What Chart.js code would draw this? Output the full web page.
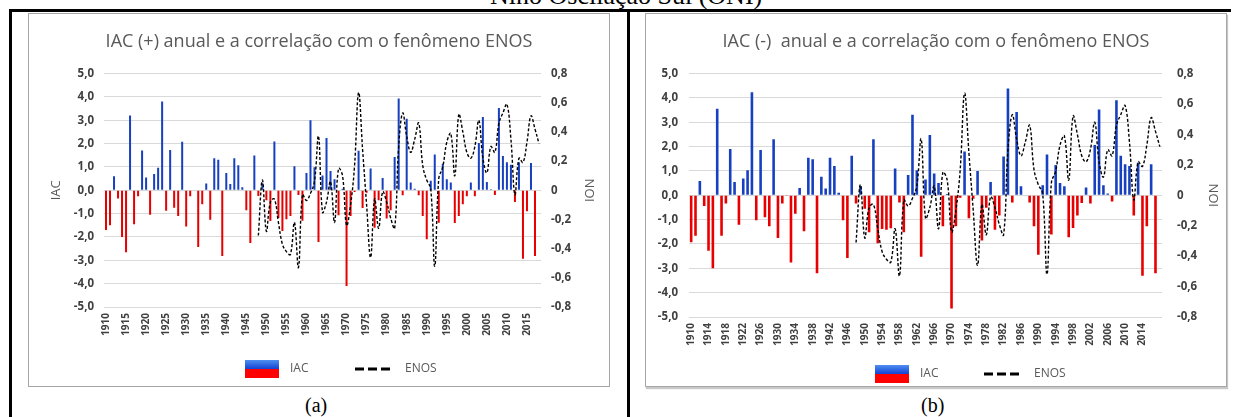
<!DOCTYPE html>
<html>
<head>
<meta charset="utf-8">
<script src="https://cdn.jsdelivr.net/npm/chart.js@4/dist/chart.umd.min.js"></script>
<style>
  body { margin: 0; background: #fff; }
  #page { position: relative; width: 1233px; height: 417px; overflow: hidden; background: #fff; }
  .rule { position: absolute; background: #000; }
  .box { position: absolute; top: 13px; width: 582px; height: 374px; box-sizing: border-box; border: 1px solid #a6a6a6; background: #fff; }
  .box canvas { position: absolute; left: -1px; top: -1px; }
  .cap { position: absolute; font-family: "Liberation Serif", serif; color: #000; white-space: nowrap; }
</style>
</head>
<body>
<div id="page">
  <div class="cap" style="left:490px; top:-17px; font-size:26px; line-height:26px;">Niño Oscilação Sul (ONI)</div>
  <div class="rule" style="left:9px; top:9px; width:1222px; height:3px;"></div>
  <div class="rule" style="left:9px; top:9px; width:3px; height:408px;"></div>
  <div class="rule" style="left:627px; top:9px; width:3px; height:408px;"></div>
  <div class="box" style="left:28px;"><canvas id="chartA" width="582" height="374"></canvas></div>
  <div class="box" style="left:645px; box-shadow: 1px 2px 1px #c8c8c8;"><canvas id="chartB" width="582" height="374"></canvas></div>
  <div class="cap" style="left:305px; top:394px; font-size:20px; line-height:22px;">(a)</div>
  <div class="cap" style="left:921px; top:394px; font-size:20px; line-height:22px;">(b)</div>
</div>
<script>
const years = [
  1910, 1911, 1912, 1913, 1914, 1915, 1916, 1917, 1918, 1919,
  1920, 1921, 1922, 1923, 1924, 1925, 1926, 1927, 1928, 1929,
  1930, 1931, 1932, 1933, 1934, 1935, 1936, 1937, 1938, 1939,
  1940, 1941, 1942, 1943, 1944, 1945, 1946, 1947, 1948, 1949,
  1950, 1951, 1952, 1953, 1954, 1955, 1956, 1957, 1958, 1959,
  1960, 1961, 1962, 1963, 1964, 1965, 1966, 1967, 1968, 1969,
  1970, 1971, 1972, 1973, 1974, 1975, 1976, 1977, 1978, 1979,
  1980, 1981, 1982, 1983, 1984, 1985, 1986, 1987, 1988, 1989,
  1990, 1991, 1992, 1993, 1994, 1995, 1996, 1997, 1998, 1999,
  2000, 2001, 2002, 2003, 2004, 2005, 2006, 2007, 2008, 2009,
  2010, 2011, 2012, 2013, 2014, 2015, 2016, 2017, 2018
];

// IAC (+) anual, painel (a)
const iacPos = [
  -1.7, -1.5, 0.6, -0.35, -2.0, -2.65, 3.2, -1.45, -0.25, 1.7,
  0.55, -1.05, 0.7, 0.97, 3.8, -0.88, 1.73, -0.75, -1.1, 2.08,
  -1.55, -0.26, 0, -2.43, -0.6, 0.29, -1.26, 1.37, 1.31, -2.81,
  0.74, 0.27, 1.37, 1.07, 0.13, -0.86, -2.26, 1.49, -0.24, 0.3,
  -0.43, -1.31, 2.09, -1.19, -1.74, -1.24, -1.1, 1.03, -0.2, -1.3,
  0.74, 3.0, 0.99, -2.21, 0.63, 2.24, 0.83, 0.47, -1.07, 0.07,
  -4.1, -1.1, -0.07, 1.69, -0.76, -0.1, 0.93, -1.6, -0.43, 0.53,
  -1.21, -0.86, 1.43, 3.93, -0.21, 3.07, 0.33, 0.07, -0.21, -1.1,
  -2.1, 0.41, 1.53, -1.39, 1.14, 0.47, 0.33, -1.4, -1.1, -0.6,
  -0.25, 0.33, -0.26, 2.03, 3.14, 0.36, 0.05, -0.2, 3.53, 1.47,
  1.2, 1.1, -0.5, 1.2, -2.93, -0.9, 1.17, -2.81, null
];

// IAC (-) anual, painel (b)
const iacNeg = [
  -1.93, -1.66, 0.59, -0.44, -2.28, -3.0, 3.56, -1.66, -0.34, 1.9,
  0.55, -1.21, 0.69, 1.03, 4.23, -1.03, 1.86, -0.9, -1.27, 2.3,
  -1.75, -0.34, -0.03, -2.76, -0.76, 0.3, -1.48, 1.54, 1.48, -3.2,
  0.76, 0.28, 1.54, 1.2, 0.1, -1.03, -2.58, 1.63, -0.34, 0.37,
  -0.55, -1.52, 2.3, -1.97, -1.38, -1.42, -1.35, 1.1, -0.3, -1.52,
  0.83, 3.31, 1.03, -2.52, 0.65, 2.48, 0.9, 0.51, -1.27, 0.05,
  -4.65, -1.27, -0.1, 1.8, -0.94, -0.14, 1.0, -1.86, -0.51, 0.55,
  -1.42, -0.83, 1.59, 4.39, -0.3, 3.42, 0.37, 0.02, -0.3, -1.27,
  -2.44, 0.41, 1.68, -1.61, 1.24, 0.51, 0.37, -1.72, -1.34, -0.83,
  -0.32, 0.32, -0.34, 2.07, 3.52, 0.41, 0.07, -0.25, 3.9, 1.63,
  1.28, 1.2, -0.83, 1.34, -3.31, -1.27, 1.28, -3.2, null
];

// ENOS (ION), eixo da direita
const enos = [
  null, null, null, null, null, null, null, null, null, null,
  null, null, null, null, null, null, null, null, null, null,
  null, null, null, null, null, null, null, null, null, null,
  null, null, null, null, null, null, null, null, -0.31, 0.07,
  -0.28, -0.08, -0.06, -0.22, -0.37, -0.42, -0.44, -0.22, -0.53, -0.03,
  -0.07, -0.02, 0.06, 0.37, -0.15, -0.08, 0.06, -0.22, 0.15, 0.1,
  -0.24, -0.1, 0.17, 0.67, 0.28, -0.1, -0.46, -0.06, -0.26, -0.01,
  -0.08, -0.19, -0.26, 0.3, 0.53, 0.37, 0.26, 0.35, 0.46, 0.17,
  0.07, 0.01, -0.52, 0.08, 0.16, 0.33, 0.39, 0.1, 0.52, 0.4,
  0.26, 0.22, 0.3, 0.48, 0.22, 0.12, 0.3, 0.26, 0.46, 0.53,
  0.59, 0.35, -0.03, 0.22, 0.19, 0.33, 0.51, 0.42, 0.32
];

const BLUE = '#1740c0';
const RED = '#e80000';
const GREY = '#595959';
const FONT = '"Open Sans", "Liberation Sans", sans-serif';

function fmtComma(v, digits) {
    if (Math.abs(v) < 1e-9) return digits === 0 ? '0' : (0).toFixed(digits).replace('.', ',');
    return v.toFixed(digits).replace('.', ',');
}

// legenda desenhada a mão: a caixa do IAC é meio azul, meio vermelha
// (o título ION também, porque o Chart.js gira o eixo da direita para o outro lado)
const legendPlugin = {
    id: 'iacLegend',
    afterDraw(chart, args, opts) {
        const ctx = chart.ctx;
        const cy = opts.y;
        ctx.save();
        const g = ctx.createLinearGradient(0, cy - 9, 0, cy);
        g.addColorStop(0, '#4f8ff0');
        g.addColorStop(1, '#1242d4');
        ctx.fillStyle = g;
        ctx.fillRect(opts.swatchX, cy - 9, 34, 9);
        ctx.fillStyle = '#ff0000';
        ctx.fillRect(opts.swatchX, cy, 34, 9);

        ctx.font = '12px ' + FONT;
        ctx.fillStyle = GREY;
        ctx.textBaseline = 'middle';
        ctx.textAlign = 'left';
        ctx.fillText('IAC', opts.swatchX + 45, cy);

        ctx.strokeStyle = '#000';
        ctx.lineWidth = 3;
        ctx.setLineDash([9, 4]);
        ctx.beginPath();
        ctx.moveTo(opts.dashX, cy);
        ctx.lineTo(opts.dashX + 37, cy);
        ctx.stroke();
        ctx.setLineDash([]);
        ctx.fillText('ENOS', opts.dashX + 50, cy);

        const area = chart.chartArea;
        ctx.translate(opts.ionX, (area.top + area.bottom) / 2);
        ctx.rotate(-Math.PI / 2);
        ctx.textAlign = 'center';
        ctx.font = '13px ' + FONT;
        ctx.fillText('ION', 0, 0);
        ctx.restore();
    }
};

function renderChart(id, values, o) {
    const ctx = document.getElementById(id).getContext('2d');
    return new Chart(ctx, {
        type: 'bar',
        data: {
            labels: years,
            datasets: [{
                label: 'ENOS',
                type: 'line',
                data: enos,
                yAxisID: 'y1',
                borderColor: '#000',
                borderWidth: 1.4,
                borderDash: [3, 2],
                pointRadius: 0,
                tension: 0.4,
                spanGaps: false,
                order: 0
            }, {
                label: 'IAC',
                data: values,
                yAxisID: 'y',
                backgroundColor: c => (c.raw >= 0 ? BLUE : RED),
                barPercentage: o.barPct,
                categoryPercentage: 1,
                order: 1
            }]
        },
        options: {
            responsive: false,
            animation: false,
            devicePixelRatio: 1,
            layout: { padding: 0 },
            plugins: {
                legend: { display: false },
                tooltip: { enabled: false },
                title: {
                    display: true,
                    text: o.title,
                    color: GREY,
                    font: { family: FONT, size: 18, weight: 'normal' },
                    padding: { top: 18, bottom: o.titleBottom }
                },
                iacLegend: o.legend
            },
            scales: {
                x: {
                    offset: true,
                    grid: { display: false, drawTicks: false },
                    border: { display: false },
                    ticks: {
                        autoSkip: false,
                        maxRotation: 90,
                        minRotation: 90,
                        padding: 6,
                        color: '#404040',
                        font: { family: FONT, size: 10, weight: 'bold' },
                        callback: (v, i) => (i % o.every === 0 && years[i] <= 2015 ? String(years[i]) : '')
                    },
                    afterFit: s => { s.height = o.xHeight; }
                },
                y: {
                    position: 'left',
                    min: -5,
                    max: 5,
                    grid: { color: '#d9d9d9', lineWidth: 1, drawTicks: false, tickLength: 0 },
                    border: { display: false },
                    ticks: {
                        stepSize: 1,
                        padding: o.yPad,
                        color: '#404040',
                        font: { family: FONT, size: 11.5, weight: 'bold' },
                        callback: v => fmtComma(v, 1)
                    },
                    title: {
                        display: o.yTitle,
                        text: 'IAC',
                        color: GREY,
                        font: { family: FONT, size: 13 },
                        padding: { top: 20, bottom: 0 }
                    },
                    afterFit: s => { s.width = o.yWidth; }
                },
                y1: {
                    position: 'right',
                    min: -0.8,
                    max: 0.8,
                    grid: { display: false, drawOnChartArea: false, drawTicks: false, tickLength: 0 },
                    border: { display: false },
                    ticks: {
                        stepSize: 0.2,
                        padding: o.y1Pad,
                        color: '#404040',
                        font: { family: FONT, size: 11.5, weight: 'bold' },
                        callback: v => fmtComma(v, Math.abs(v) < 1e-9 ? 0 : 1)
                    },
                    afterFit: s => { s.width = o.y1Width; }
                }
            }
        },
        plugins: [legendPlugin]
    });
}

renderChart('chartA', iacPos, {
    title: 'IAC (+) anual e a correlação com o fenômeno ENOS',
    titleBottom: 21,
    every: 5,
    barPct: 0.5,
    xHeight: 80,
    yWidth: 76,
    yPad: 10,
    yTitle: true,
    y1Width: 69,
    y1Pad: 10,
    legend: { y: 356, swatchX: 217, dashX: 327, ionX: 562 }
});

renderChart('chartB', iacNeg, {
    title: 'IAC (-)  anual e a correlação com o fenômeno ENOS',
    titleBottom: 21,
    every: 4,
    barPct: 0.6,
    xHeight: 70,
    yWidth: 44,
    yPad: 11,
    yTitle: false,
    y1Width: 65,
    y1Pad: 15,
    legend: { y: 361, swatchX: 230, dashX: 339, ionX: 569 }
});
</script>
</body>
</html>
